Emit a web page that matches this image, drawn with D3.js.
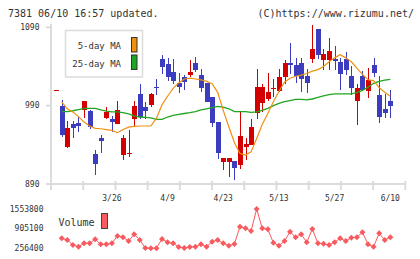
<!DOCTYPE html>
<html>
<head>
<meta charset="utf-8">
<script src="https://cdn.jsdelivr.net/npm/d3@7"></script>
<style>
  body { margin: 0; background: #fff; }
  svg text { font-family: "DejaVu Sans Mono", monospace; fill: #333; }
</style>
</head>
<body>
<svg id="chart" width="420" height="259"></svg>
<script>

// daily candles, oldest first (first day is a flat one with no volume)
var opens  = [1010, 990, 937, 966, 968, 984, 983, 928, 949, 974, 972.5, 966, 927, 928.5, 973,
              1005, 988, 991, 1014, 1049, 1043, 1033, 1019, 1026.5, 1028.7, 1044.5, 1029, 1019.5, 1001, 969,
              918, 918, 919, 914.5, 937, 940, 981, 994, 999, 1011, 1009, 1026, 1044.5, 1042.5, 1044,
              1028, 1049, 1087.5, 1048.7, 1048, 1049.5, 1045.5, 1049.5, 1028, 996, 1028, 1009, 1042.5, 1003.5, 986, 996];
var highs  = [1010, 997, 971, 971, 975, 996, 985, 934, 953, 988, 977, 995.5, 952, 958.5, 996,
              1018, 994.5, 1006.5, 1024, 1055, 1051, 1050, 1031.5, 1029.5, 1048, 1052, 1036.5, 1019.5, 1001, 969,
              923.5, 923, 919, 982.5, 948.5, 972.5, 1037, 1017, 1032, 1023.5, 1037, 1048, 1070.5, 1051, 1051,
              1036.5, 1093, 1087.5, 1062.5, 1076.5, 1066, 1051, 1058.5, 1040.5, 1018, 1034, 1038, 1051, 1028, 1005, 1010];
var lows   = [1010, 950, 936, 949, 956, 974, 960, 901, 930, 973, 956, 966, 921, 925, 963,
              973, 973, 988, 1004, 1031, 1021, 1017.5, 1006.5, 1010.5, 1026.5, 1033, 1007.5, 994.5, 962.5, 922,
              908, 899, 895.5, 909.5, 920, 940, 973, 982.5, 995.5, 1001, 1008, 1017, 1030, 1019.5, 1007.5,
              1006.5, 1045, 1050, 1036, 1036, 1036, 1009.5, 1028.5, 1004, 965.5, 1008.5, 1000, 1026.5, 968, 974, 974];
var closes = [1010, 952, 961, 961, 964, 996, 963, 915, 945, 982, 969, 984, 949, 929.5, 989.5,
              975.5, 983, 1005, 1012, 1039, 1027, 1021, 1014, 1020, 1033, 1036, 1013, 994.5, 968, 930,
              923.5, 923, 910.5, 951, 941, 962.5, 1014, 1014, 1007.5, 1012.5, 1026.5, 1044.5, 1042, 1028, 1024.5,
              1019.5, 1062, 1054.5, 1056, 1059.5, 1047.5, 1031, 1036, 1013, 1012.5, 1010.5, 1023, 1032, 975.5, 980, 989.5];

// moving averages
var ma5  = [null, 994.6, 986, 982, 976, 969, 964, 961, 960.5, 959.5, 958.5, 955.5, 959.5, 962.5, 963.5,
            964, 964, 964, 974, 991, 1002, 1012, 1019, 1024, 1025, 1024, 1023, 1021, 1018, 1007,
            984, 963, 943, 929, 927, 931, 948, 966, 980, 995, 1008, 1020, 1025, 1027.5, 1029,
            1031, 1034, 1036, 1040, 1046, 1051, 1055, 1051, 1046, 1038, 1030, 1023, 1022, 1013, 1007, 1002];
var ma25 = [null, 982.5, 982.5, 983.5, 985, 986.5, 986.5, 986.5, 984.5, 983, 982, 982, 981, 979.5, 977,
            975.5, 975, 974.5, 972.5, 972.5, 975.5, 977.5, 979, 980, 981, 982.5, 984.5, 986, 987.5, 989,
            988, 986, 982.5, 982.5, 982.5, 981.5, 982, 984, 986.5, 990, 993, 995, 996.5, 998, 998,
            997.5, 998.5, 1000.5, 1002.5, 1004, 1005, 1005, 1005, 1005, 1006.5, 1009.5, 1013.5, 1018.5, 1021, 1022.5, 1023.5];

var volumes = [null, 586500, 530400, 365300, 309200, 421500, 421500, 553500, 388500, 388500, 421500,
               662500, 619500, 497400, 718600, 530400, 268000, 256400, 262000, 563400, 454500,
               421500, 299300, 265000, 299300, 309200, 388500, 309200, 474300, 530400, 421500,
               342200, 398400, 969500, 916700, 827500, 1553800, 916700, 883600, 441300, 342200,
               497400, 804400, 619500, 718600, 454500, 893600, 421500, 408300, 365300, 454500,
               586500, 497400, 606300, 619500, 784600, 388500, 309200, 751600, 530400, 619500];

// axis labels
var priceTicks = [890, 990, 1090];
var volumeTicks = [256400, 905100, 1553800];
var dateLabels = ['3/26', '4/9', '4/23', '5/13', '5/27', '6/10'];
var dateLabelIndex = [10, 20, 30, 40, 50, 60];

var upColor = '#d40000';
var downColor = '#3c3cbe';
var ma5Color = '#f0900f';
var ma25Color = '#1fa51f';
var volColor = '#f75a5f';
var gridColor = '#dcdcdc';

var svg = d3.select('#chart');

// scales
var x = d3.scaleLinear().domain([0, closes.length - 1]).range([56.2, 390.3]);
var y = d3.scaleLinear().domain([890, 1090]).range([184, 27.3]);
var yVol = d3.scaleLinear().domain([256400, 1553800]).range([248.3, 209]);

// header texts
svg.append('text')
  .attr('x', 8).attr('y', 16.5)
  .style('font-size', '10px')
  .text('7381 06/10 16:57 updated.');

svg.append('text')
  .attr('x', 414).attr('y', 16.5)
  .attr('text-anchor', 'end')
  .style('font-size', '10px')
  .text('(C)https://www.rizumu.net/');

// left axis line + bottom line
svg.append('line')
  .attr('x1', 51).attr('x2', 51)
  .attr('y1', 24).attr('y2', 190)
  .attr('stroke', gridColor).attr('stroke-width', 2);

svg.append('line')
  .attr('x1', 46).attr('x2', 406)
  .attr('y1', y(890)).attr('y2', y(890))
  .attr('stroke', gridColor).attr('stroke-width', 2);

// little marks on the bottom line, evenly spread
var markScale = d3.scaleLinear().domain([0, 11]).range([51, 405.3]);
svg.append('g').selectAll('line')
  .data(d3.range(1, 12))
  .enter().append('line')
    .attr('x1', function(d) { return markScale(d); })
    .attr('x2', function(d) { return markScale(d); })
    .attr('y1', 181).attr('y2', 190)
    .attr('stroke', gridColor).attr('stroke-width', 2);

// price ticks
var priceAxis = svg.append('g');
priceAxis.selectAll('line')
  .data(priceTicks)
  .enter().append('line')
    .attr('x1', 46).attr('x2', 51)
    .attr('y1', function(d) { return y(d); })
    .attr('y2', function(d) { return y(d); })
    .attr('stroke', gridColor).attr('stroke-width', 2);

priceAxis.selectAll('text')
  .data(priceTicks)
  .enter().append('text')
    .attr('x', 39.5)
    .attr('y', function(d) { return y(d); })
    .attr('dy', '0.35em')
    .attr('text-anchor', 'end')
    .style('font-size', '8px')
    .text(function(d) { return d; });

// date labels
svg.append('g').selectAll('text')
  .data(dateLabels)
  .enter().append('text')
    .attr('x', function(d, i) { return x(dateLabelIndex[i]); })
    .attr('y', 201)
    .attr('text-anchor', 'middle')
    .style('font-size', '8px')
    .text(function(d) { return d; });

// candles
var candles = svg.append('g').selectAll('g')
  .data(closes.map(function(c, i) {
    return {i: i, o: opens[i], h: highs[i], l: lows[i], c: c};
  }))
  .enter().append('g')
    .attr('shape-rendering', 'crispEdges');

candles.append('line')
  .attr('x1', function(d) { return Math.round(x(d.i)) + 0.5; })
  .attr('x2', function(d) { return Math.round(x(d.i)) + 0.5; })
  .attr('y1', function(d) { return y(d.h); })
  .attr('y2', function(d) { return y(d.l); })
  .attr('stroke', function(d) { return d.c >= d.o ? upColor : downColor; })
  .attr('stroke-width', 1);

candles.append('rect')
  .attr('x', function(d) { return Math.round(x(d.i)) - 2; })
  .attr('width', 5)
  .attr('y', function(d) { return y(Math.max(d.o, d.c)); })
  .attr('height', function(d) { return Math.max(1, Math.abs(y(d.o) - y(d.c))); })
  .attr('fill', function(d) { return d.c >= d.o ? upColor : downColor; });

// moving average lines
var maLine = d3.line()
  .defined(function(d) { return d != null; })
  .x(function(d, i) { return x(i); })
  .y(function(d) { return y(d); });

svg.append('path')
  .datum(ma25)
  .attr('d', maLine)
  .attr('fill', 'none')
  .attr('stroke', ma25Color)
  .attr('stroke-width', 1.3);

svg.append('path')
  .datum(ma5)
  .attr('d', maLine)
  .attr('fill', 'none')
  .attr('stroke', ma5Color)
  .attr('stroke-width', 1.2);

// legend box
var legend = svg.append('g');
legend.append('rect')
  .attr('x', 65.5).attr('y', 30.5)
  .attr('width', 77).attr('height', 46.5)
  .attr('fill', '#fff')
  .attr('stroke', gridColor).attr('stroke-width', 1.5);

legend.append('text')
  .attr('x', 121).attr('y', 46).attr('dy', '0.35em')
  .attr('text-anchor', 'end')
  .style('font-size', '9px')
  .text('5-day MA');

legend.append('text')
  .attr('x', 121).attr('y', 63.5).attr('dy', '0.35em')
  .attr('text-anchor', 'end')
  .style('font-size', '9px')
  .text('25-day MA');

legend.append('rect')
  .attr('x', 131.5).attr('y', 37.5).attr('width', 5.5).attr('height', 14.5)
  .attr('fill', ma5Color).attr('stroke', '#333');

legend.append('rect')
  .attr('x', 131.5).attr('y', 55).attr('width', 5.5).attr('height', 14.5)
  .attr('fill', ma25Color).attr('stroke', '#333');

// volume panel
svg.append('g').selectAll('text')
  .data(volumeTicks)
  .enter().append('text')
    .attr('x', 43.5)
    .attr('y', function(d) { return yVol(d); })
    .attr('dy', '0.35em')
    .attr('text-anchor', 'end')
    .style('font-size', '8px')
    .text(function(d) { return d; });

svg.append('text')
  .attr('x', 58.5).attr('y', 222).attr('dy', '0.35em')
  .style('font-size', '10px')
  .text('Volume');

svg.append('rect')
  .attr('x', 101.5).attr('y', 213.5).attr('width', 6).attr('height', 15)
  .attr('fill', volColor).attr('stroke', '#444');

var volLine = d3.line()
  .defined(function(d) { return d != null; })
  .x(function(d, i) { return x(i); })
  .y(function(d) { return yVol(d); });

svg.append('path')
  .datum(volumes)
  .attr('d', volLine)
  .attr('fill', 'none')
  .attr('stroke', volColor)
  .attr('stroke-width', 1);

// diamond markers
var diamond = d3.symbol().type(d3.symbolSquare).size(18);
svg.append('g').selectAll('path')
  .data(volumes.map(function(v, i) { return {i: i, v: v}; })
    .filter(function(d) { return d.v != null; }))
  .enter().append('path')
    .attr('d', diamond)
    .attr('transform', function(d) {
      return 'translate(' + x(d.i) + ',' + yVol(d.v) + ') rotate(45)';
    })
    .attr('fill', volColor);

</script>
</body>
</html>
